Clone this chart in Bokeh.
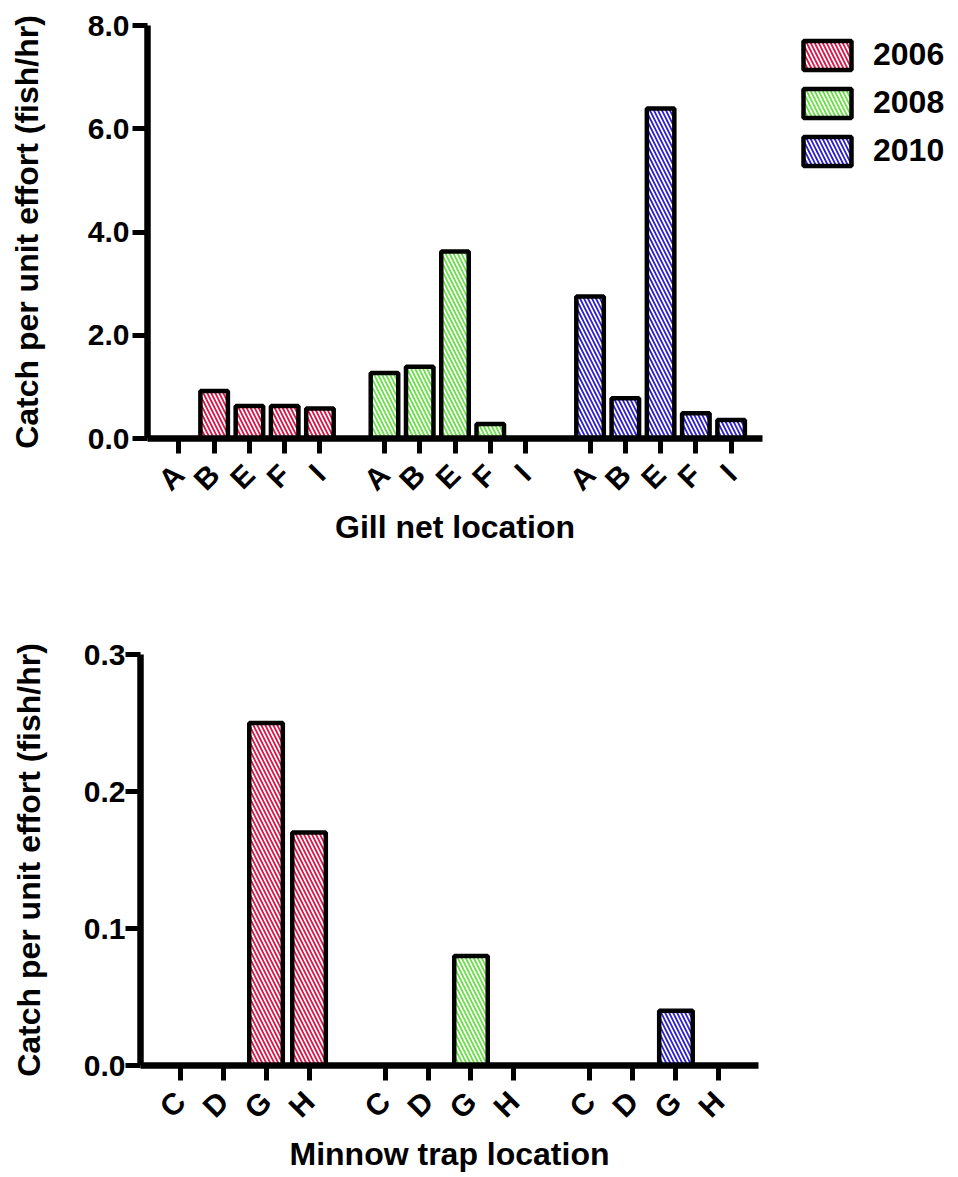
from bokeh.plotting import figure
from bokeh.models import FactorRange, Range1d, FixedTicker, PrintfTickFormatter, Legend, LegendItem
from bokeh.embed import file_html
from bokeh.resources import INLINE

# ---- data ----
years = ["2006", "2008", "2010"]
gill_locations = ["A", "B", "E", "F", "I"]
gill_2006 = [0.0, 0.92, 0.63, 0.63, 0.58]
gill_2008 = [1.27, 1.39, 3.62, 0.28, 0.0]
gill_2010 = [2.75, 0.78, 6.39, 0.49, 0.36]
minnow_locations = ["C", "D", "G", "H"]
minnow_2006 = [0.0, 0.0, 0.25, 0.17]
minnow_2008 = [0.0, 0.0, 0.08, 0.0]
minnow_2010 = [0.0, 0.0, 0.04, 0.0]
gill_yticks = [0, 2, 4, 6, 8]
minnow_yticks = [0.0, 0.1, 0.2, 0.3]
ylabel = "Catch per unit effort (fish/hr)"
gill_xlabel = "Gill net location"
minnow_xlabel = "Minnow trap location"

colors = {"2006": "#dc1446", "2008": "#66e044", "2010": "#2b1fd0"}
FONT = "Liberation Sans"


def make_fig(locs, series, ymax, yticks, xlabel, frame_w, frame_h,
             mb_left, mb_right, mb_top, mb_bottom, gpad, rpad,
             ylab_standoff, ytick_standoff, xtick_standoff, xlab_standoff):
    factors = [(y, l) for y in years for l in locs]
    xr = FactorRange(*factors, group_padding=gpad, factor_padding=0,
                     range_padding=rpad, range_padding_units="absolute")
    p = figure(x_range=xr, y_range=Range1d(0, ymax),
               frame_width=frame_w, frame_height=frame_h,
               min_border_left=mb_left, min_border_right=mb_right,
               min_border_top=mb_top, min_border_bottom=mb_bottom,
               output_backend="svg", toolbar_location=None)
    p.outline_line_color = None
    p.xgrid.grid_line_color = None
    p.ygrid.grid_line_color = None
    p.background_fill_color = "white"
    p.border_fill_color = "white"

    renderers = []
    for y, vals in zip(years, series):
        xs = [(y, l) for l in locs]
        r = p.vbar(x=xs, top=vals, bottom=0, width=0.78,
                   fill_color="white", line_color="black", line_width=4.5,
                   hatch_pattern="\\", hatch_color=colors[y],
                   hatch_scale=8, hatch_weight=1.8)
        renderers.append(r)

    for ax in (p.xaxis[0], p.yaxis[0]):
        ax.axis_line_width = 6.5
        ax.axis_line_color = "black"
        ax.major_tick_line_width = 5
        ax.major_tick_line_color = "black"
        ax.major_tick_in = 0
        ax.major_tick_out = 15
        ax.minor_tick_line_color = None
        ax.axis_label_text_font = FONT
        ax.axis_label_text_font_style = "bold"
        ax.axis_label_text_font_size = "32px"
        ax.axis_label_text_color = "black"
        ax.major_label_text_font = FONT
        ax.major_label_text_font_style = "bold"
        ax.major_label_text_color = "black"

    yax = p.yaxis[0]
    yax.ticker = FixedTicker(ticks=yticks)
    yax.formatter = PrintfTickFormatter(format="%.1f")
    yax.major_label_text_font_size = "30px"
    yax.major_label_standoff = ytick_standoff
    yax.axis_label = ylabel
    yax.axis_label_standoff = ylab_standoff

    xax = p.xaxis[0]
    xax.major_label_orientation = 0.785398
    xax.major_label_text_font_size = "30px"
    xax.major_label_standoff = xtick_standoff
    xax.group_text_font_size = "1px"
    xax.group_text_color = None
    xax.separator_line_color = None
    xax.axis_label = xlabel
    xax.axis_label_standoff = xlab_standoff
    return p, renderers


p1, r1 = make_fig(gill_locations, [gill_2006, gill_2008, gill_2010], 8,
                  gill_yticks, gill_xlabel, 615, 413,
                  147, 190, 25, 122, 0.83, 0.39, 40, 3, 16, -2)

legend = Legend(items=[LegendItem(label=y, renderers=[r]) for y, r in zip(years, r1)],
                location=(35, 269))
legend.border_line_color = None
legend.background_fill_alpha = 0
legend.padding = 0
legend.margin = 0
legend.glyph_width = 60
legend.glyph_height = 36
legend.label_standoff = 16
legend.spacing = 11
legend.label_text_font = FONT
legend.label_text_font_style = "bold"
legend.label_text_font_size = "32px"
legend.label_text_color = "black"
p1.add_layout(legend, "right")

p2, r2 = make_fig(minnow_locations, [minnow_2006, minnow_2008, minnow_2010], 0.3,
                  minnow_yticks, minnow_xlabel, 618, 411,
                  140, 194, 94, 108, 0.767, 0.42, 34, 0, 16, -3)

open("out.html", "w").write(file_html([p1, p2], INLINE))
